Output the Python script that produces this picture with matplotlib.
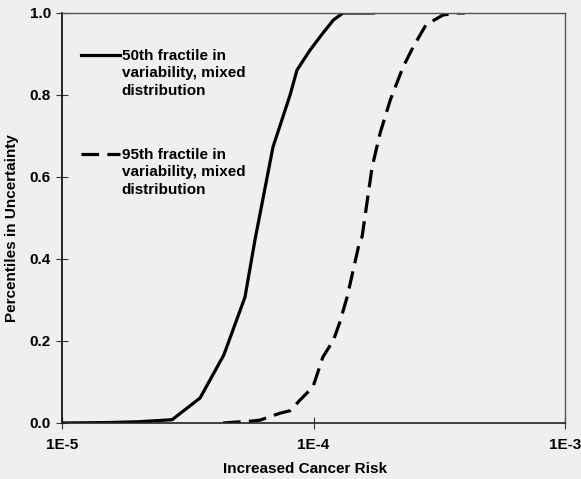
import matplotlib
matplotlib.use("Agg")
import matplotlib.pyplot as plt
from matplotlib.lines import Line2D
from matplotlib.ticker import FixedLocator, FixedFormatter, NullLocator

plt.rcParams['font.family'] = ['Liberation Sans', 'DejaVu Sans']
plt.rcParams['font.weight'] = 'bold'

# Data
risk_50 = [1.0e-5, 1.5e-5, 2.0e-5, 2.74e-5, 3.54e-5, 4.4e-5, 5.34e-5, 5.85e-5, 6.9e-5,
           8.07e-5, 8.6e-5, 9.7e-5, 1.09e-4, 1.2e-4, 1.31e-4, 1.73e-4]
pct_50 = [0.0, 0.001, 0.003, 0.008, 0.061, 0.166, 0.307, 0.446, 0.673,
          0.80, 0.861, 0.91, 0.951, 0.983, 1.0, 1.0]

risk_95 = [4.37e-5, 5.75e-5, 6.13e-5, 7.37e-5, 8.07e-5, 8.84e-5, 9.95e-5, 1.09e-4, 1.2e-4,
           1.27e-4, 1.36e-4, 1.43e-4, 1.53e-4, 1.56e-4, 1.71e-4, 1.84e-4, 2.02e-4,
           2.27e-4, 2.49e-4, 2.8e-4, 3.27e-4, 3.7e-4, 4.0e-4]
pct_95 = [0.0, 0.005, 0.007, 0.024, 0.03, 0.056, 0.088, 0.161, 0.202,
          0.244, 0.307, 0.366, 0.446, 0.454, 0.624, 0.707, 0.788,
          0.868, 0.917, 0.971, 0.995, 1.0, 1.0]

label_50 = "50th fractile in\nvariability, mixed\ndistribution"
label_95 = "95th fractile in\nvariability, mixed\ndistribution"

x_ticks = [1e-5, 1e-4, 1e-3]
x_tick_labels = ["1E-5", "1E-4", "1E-3"]
y_ticks = [0.0, 0.2, 0.4, 0.6, 0.8, 1.0]
y_tick_labels = ["0.0", "0.2", "0.4", "0.6", "0.8", "1.0"]

bg = '#efefef'
fs = 11
fig = plt.figure(figsize=(5.81, 4.79), dpi=100, facecolor=bg)
W, H = 581, 479
ax = fig.add_axes([62 / W, 1 - 423 / H, (565 - 62) / W, (423 - 13) / H], facecolor=bg)

lw = 2.3
ax.plot(risk_50, pct_50, color='black', lw=lw, solid_joinstyle='round')
ax.plot(risk_95, pct_95, color='black', lw=lw, dashes=(5.5, 2.6))

ax.set_xscale('log')
ax.set_xlim(1e-5, 1e-3)
ax.set_ylim(0, 1.0)
ax.xaxis.set_major_locator(FixedLocator(x_ticks))
ax.xaxis.set_major_formatter(FixedFormatter(x_tick_labels))
ax.xaxis.set_minor_locator(NullLocator())
ax.set_yticks(y_ticks)
ax.set_yticklabels(y_tick_labels)

ax.tick_params(axis='both', direction='inout', length=8, width=0.8, color='#333333',
               labelsize=fs, labelcolor='black')
ax.tick_params(axis='x', pad=7)
ax.tick_params(axis='y', pad=4)
for lab in ax.get_xticklabels() + ax.get_yticklabels():
    lab.set_fontweight('bold')

ax.spines['left'].set_color('black')
ax.spines['left'].set_linewidth(1.2)
ax.spines['bottom'].set_color('#222222')
ax.spines['bottom'].set_linewidth(1.2)
for s in ('top', 'right'):
    ax.spines[s].set_color('#555555')
    ax.spines[s].set_linewidth(1.0)

ax.set_xlabel("Increased Cancer Risk", fontsize=fs, fontweight='bold')
ax.set_ylabel("Percentiles in Uncertainty", fontsize=fs, fontweight='bold')
ax.xaxis.set_label_coords((305 - 62) / 503, (423 - 469) / 410)
ax.yaxis.set_label_coords((12 - 62) / 503, (423 - 228) / 410)
ax.xaxis.label.set_va('center')
ax.yaxis.label.set_va('center')

# Legend (manual, in axes coordinates)
leg_x0, leg_x1, leg_tx = 0.038, 0.115, 0.119
for ly, lab, style in [(0.898, label_50, None), (0.656, label_95, (5.5, 2.6))]:
    ln = Line2D([leg_x0, leg_x1], [ly, ly], transform=ax.transAxes, color='black', lw=lw)
    if style is not None:
        ln.set_dashes(style)
    ax.add_line(ln)
    ax.text(leg_tx, ly + 0.015, lab, transform=ax.transAxes, va='top', ha='left',
            fontsize=fs, fontweight='bold', linespacing=1.32)

fig.savefig('out.png', dpi=100, facecolor=bg)
